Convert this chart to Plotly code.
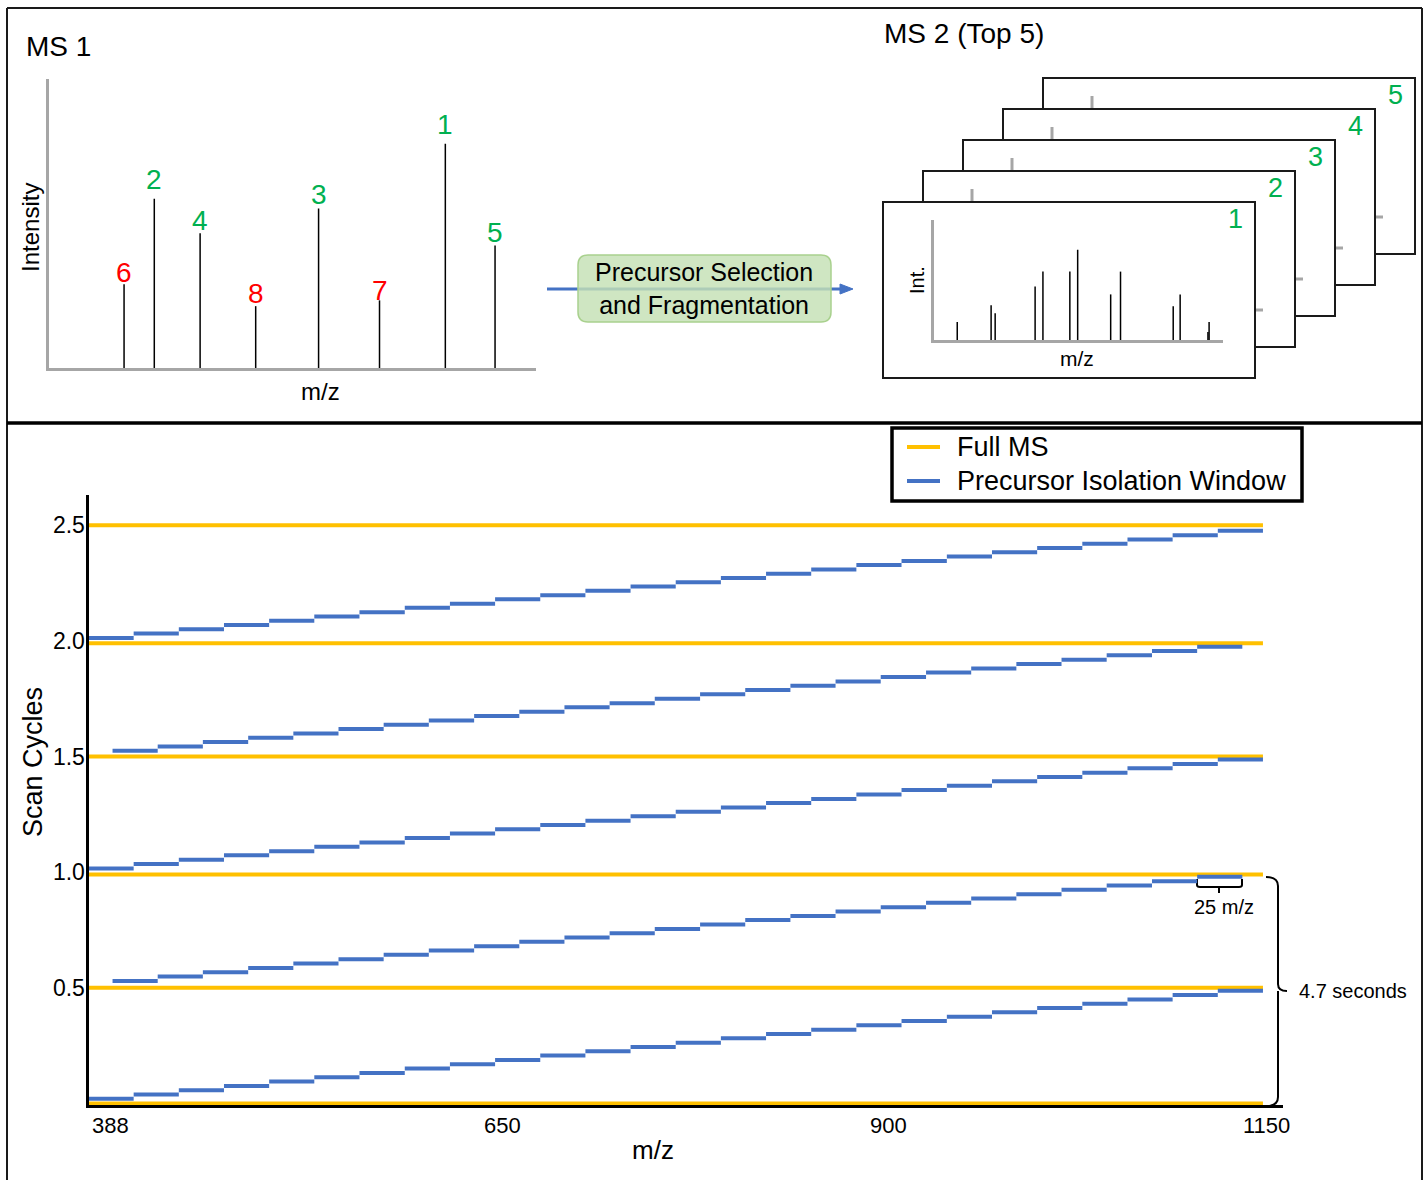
import plotly.graph_objects as go

W, H = 1427, 1180

# ---------------- data ----------------
# MS1 survey spectrum (relative m/z position, relative intensity)
ms1_labels = ["6", "2", "4", "8", "3", "7", "1", "5"]
ms1_mz = [15.5, 21.7, 31.1, 42.5, 55.4, 67.9, 81.4, 91.6]
ms1_intensity = [29.0, 58.6, 46.6, 21.4, 55.2, 23.4, 77.6, 42.4]
ms1_selected = [False, True, True, False, True, False, True, True]

# MS2 fragment spectrum (front panel)
ms2_mz = [8.2, 19.9, 21.3, 35.1, 37.8, 47.1, 49.8, 61.2, 64.6, 82.8, 85.2, 94.8, 95.2]
ms2_intensity = [14.9, 28.9, 22.3, 44.6, 57.0, 57.0, 75.2, 38.0, 57.0, 28.1, 38.0, 6.6, 14.9]
ms2_panel_labels = ["1", "2", "3", "4", "5"]

# Scan-cycle chart
full_ms_cycles = [0.0, 0.5, 0.99, 1.5, 1.99, 2.5]
full_ms_mz_range = [388, 1150]

window_edges_a = [388.0, 417.3, 446.6, 475.9, 505.2, 534.5, 563.8, 593.2, 622.5, 651.8,
                  681.1, 710.4, 739.7, 769.0, 798.3, 827.6, 856.9, 886.2, 915.5, 944.9,
                  974.2, 1003.5, 1032.8, 1062.1, 1091.4, 1120.7, 1150.0]
window_edges_b = [403.6, 432.9, 462.2, 491.6, 520.9, 550.2, 579.5, 608.8, 638.2, 667.5,
                  696.8, 726.1, 755.4, 784.8, 814.1, 843.4, 872.7, 902.0, 931.4, 960.7,
                  990.0, 1019.3, 1048.6, 1078.0, 1107.3, 1136.6]

cycle1_windows = [0.020, 0.039, 0.057, 0.076, 0.095, 0.114, 0.132, 0.151, 0.170, 0.188,
                  0.207, 0.226, 0.244, 0.263, 0.282, 0.300, 0.319, 0.338, 0.357, 0.375,
                  0.394, 0.413, 0.431, 0.450, 0.469, 0.487]
cycle2_windows = [0.530, 0.549, 0.568, 0.586, 0.605, 0.624, 0.643, 0.661, 0.680, 0.699,
                  0.718, 0.736, 0.755, 0.774, 0.793, 0.811, 0.830, 0.849, 0.868, 0.886,
                  0.905, 0.924, 0.943, 0.961, 0.980]
cycle3_windows = [1.016, 1.035, 1.054, 1.073, 1.091, 1.110, 1.129, 1.148, 1.167, 1.186,
                  1.204, 1.223, 1.242, 1.261, 1.280, 1.299, 1.317, 1.336, 1.355, 1.374,
                  1.393, 1.412, 1.430, 1.449, 1.468, 1.487]
cycle4_windows = [1.525, 1.544, 1.563, 1.581, 1.600, 1.619, 1.638, 1.656, 1.675, 1.694,
                  1.713, 1.731, 1.750, 1.769, 1.788, 1.806, 1.825, 1.844, 1.863, 1.881,
                  1.900, 1.919, 1.938, 1.956, 1.975]
cycle5_windows = [2.013, 2.032, 2.050, 2.069, 2.087, 2.106, 2.124, 2.143, 2.161, 2.180,
                  2.198, 2.217, 2.235, 2.254, 2.272, 2.291, 2.309, 2.328, 2.346, 2.365,
                  2.383, 2.402, 2.420, 2.439, 2.457, 2.476]

y_tick_values = [0.5, 1.0, 1.5, 2.0, 2.5]
y_tick_labels = ["0.5", "1.0", "1.5", "2.0", "2.5"]
x_tick_values = [388, 650, 900, 1150]
x_tick_labels = ["388", "650", "900", "1150"]
legend_names = ["Full MS", "Precursor Isolation Window"]

# ---------------- helpers ----------------
FONT = "Liberation Sans, Arial, Helvetica, sans-serif"
GREEN = "#00b050"
RED = "#ff0000"
ORANGE = "#ffc000"
BLUE = "#4472c4"
GRAY = "#a6a6a6"


def px(x):
    return x / W


def py(y):
    return 1 - y / H


fig = go.Figure()

# Full MS lines
fx, fy = [], []
for c in full_ms_cycles:
    fx += [full_ms_mz_range[0], full_ms_mz_range[1], None]
    fy += [c, c, None]
fig.add_trace(go.Scatter(x=fx, y=fy, mode="lines", name=legend_names[0], showlegend=False,
                         line=dict(color=ORANGE, width=4), xaxis="x", yaxis="y"))

# Precursor isolation windows
wx, wy = [], []
for edges, levels in [(window_edges_a, cycle1_windows), (window_edges_b, cycle2_windows),
                      (window_edges_a, cycle3_windows), (window_edges_b, cycle4_windows),
                      (window_edges_a, cycle5_windows)]:
    for i, v in enumerate(levels):
        wx += [edges[i], edges[i + 1], None]
        wy += [v, v, None]
fig.add_trace(go.Scatter(x=wx, y=wy, mode="lines", name=legend_names[1], showlegend=False,
                         line=dict(color=BLUE, width=4), xaxis="x", yaxis="y"))

# MS1 sticks
sx, sy = [], []
for m, i in zip(ms1_mz, ms1_intensity):
    sx += [m, m, None]
    sy += [0, i, None]
fig.add_trace(go.Scatter(x=sx, y=sy, mode="lines", line=dict(color="black", width=1.5),
                         showlegend=False, xaxis="x2", yaxis="y2", hoverinfo="skip"))

# MS2 sticks
tx, ty = [], []
for m, i in zip(ms2_mz, ms2_intensity):
    tx += [m, m, None]
    ty += [0, i, None]
fig.add_trace(go.Scatter(x=tx, y=ty, mode="lines", line=dict(color="black", width=1.5),
                         showlegend=False, xaxis="x3", yaxis="y3", hoverinfo="skip"))

shapes = []


def line(x0, y0, x1, y1, color="black", width=2):
    shapes.append(dict(type="line", xref="paper", yref="paper", x0=px(x0), y0=py(y0),
                       x1=px(x1), y1=py(y1), line=dict(color=color, width=width), layer="below"))


def path(d_points, fill=None, color="black", width=2):
    shapes.append(dict(type="path", xref="paper", yref="paper", path=d_points,
                       fillcolor=fill if fill else "rgba(0,0,0,0)",
                       line=dict(color=color, width=width), layer="below"))


def P(x, y):
    return f"{px(x):.6f},{py(y):.6f}"


# outer frame and divider
line(7, 8, 1422, 8, "#1a1a1a", 2)
line(7, 8, 7, 1185, "#1a1a1a", 2)
line(1422, 8, 1422, 1185, "#1a1a1a", 2)
line(7, 423, 1422, 423, "black", 3.5)

# arrow + rounded green box
line(547, 289, 842, 289, BLUE, 3)
path(f"M{P(840, 284)} L{P(853, 289)} L{P(840, 294)} Z", fill=BLUE, color=BLUE, width=1)
bx0, by0, bx1, by1, r = 578, 255, 831, 322, 10
rounded = (f"M{P(bx0 + r, by0)} L{P(bx1 - r, by0)} Q{P(bx1, by0)} {P(bx1, by0 + r)} "
           f"L{P(bx1, by1 - r)} Q{P(bx1, by1)} {P(bx1 - r, by1)} L{P(bx0 + r, by1)} "
           f"Q{P(bx0, by1)} {P(bx0, by1 - r)} L{P(bx0, by0 + r)} Q{P(bx0, by0)} {P(bx0 + r, by0)} Z")
path(rounded, fill="rgba(197,224,180,0.82)", color="#a9d18e", width=1.5)

# stacked MS2 panels (back to front)
for k in range(4, -1, -1):
    x0, y0 = 883 + 40 * k, 202 - 31 * k
    shapes.append(dict(type="rect", xref="paper", yref="paper", x0=px(x0), y0=py(y0),
                       x1=px(x0 + 372), y1=py(y0 + 176), fillcolor="white",
                       line=dict(color="#1a1a1a", width=2), layer="below"))
    if k > 0:
        line(x0 + 49, y0 + 18, x0 + 49, y0 + 139, GRAY, 3)
        line(x0 + 49, y0 + 139, x0 + 340, y0 + 139, GRAY, 3)

# curly bracket "4.7 seconds"
brace = (f"M{P(1266, 877)} Q{P(1278, 877)} {P(1278, 886)} L{P(1278, 984)} "
         f"Q{P(1278, 991)} {P(1287, 991)} M{P(1278, 991)} Q{P(1278, 992)} {P(1278, 998)} "
         f"L{P(1278, 1097)} Q{P(1278, 1106)} {P(1266, 1106)}")
path(brace, color="black", width=2)
# bracket "25 m/z"
br = (f"M{P(1197, 879)} L{P(1197, 885)} Q{P(1197, 887)} {P(1200, 887)} L{P(1239, 887)} "
      f"Q{P(1242, 887)} {P(1242, 885)} L{P(1242, 879)} M{P(1219, 887)} L{P(1219, 893)}")
path(br, color="black", width=2)

# legend box
shapes.append(dict(type="rect", xref="paper", yref="paper", x0=px(892), y0=py(428),
                   x1=px(1302), y1=py(501), fillcolor="white",
                   line=dict(color="black", width=3.5), layer="below"))
line(907, 447, 940, 447, ORANGE, 4)
line(907, 481, 940, 481, BLUE, 4)

annotations = []


def text(x, y, s, size, color="black", xanchor="center", yanchor="middle", angle=0):
    annotations.append(dict(x=px(x), y=py(y), xref="paper", yref="paper", text=s,
                            showarrow=False, xanchor=xanchor, yanchor=yanchor,
                            textangle=angle, font=dict(size=size, color=color, family=FONT)))


text(24, 47, "MS 1", 28, xanchor="left")
text(882, 34, "MS 2 (Top 5)", 28, xanchor="left")
text(30, 228, "Intensity", 24, angle=-90)
text(320, 391, "m/z", 24)
text(704, 289, "Precursor Selection<br>and Fragmentation", 25)
text(917, 280, "Int.", 20, angle=-90)
text(1077, 358, "m/z", 21)
for k, lab in enumerate(ms2_panel_labels):
    text(1235 + 40 * k, 219 - 31 * k, lab, 27, GREEN)

# legend text
text(955, 447, legend_names[0], 27, xanchor="left")
text(955, 481, legend_names[1], 27, xanchor="left")

# MS1 peak labels (vertical label offsets in px, style only)
label_yshift = [-6, 2, -5, -5, -4, -8, 2, -5]
for m, i, lab, sel, ys in zip(ms1_mz, ms1_intensity, ms1_labels, ms1_selected, label_yshift):
    annotations.append(dict(x=m, y=i, xref="x2", yref="y2", text=lab, showarrow=False,
                            xanchor="center", yanchor="bottom", yshift=ys,
                            font=dict(size=28, color=GREEN if sel else RED, family=FONT)))

# bottom chart labels
text(33, 762, "Scan Cycles", 27, angle=-90)
text(653, 1150, "m/z", 26)
text(1297, 991, "4.7 seconds", 20, xanchor="left")
text(1224, 907, "25 m/z", 20)
xtick_shift = [1, 10, 11, 4]
xtick_anchor = ["left", "center", "center", "center"]
for v, lab, sh, an in zip(x_tick_values, x_tick_labels, xtick_shift, xtick_anchor):
    annotations.append(dict(x=v, y=py(1125), xref="x", yref="paper", text=lab, showarrow=False,
                            xanchor=an, yanchor="middle", xshift=sh,
                            font=dict(size=22, color="black", family=FONT)))

axis_common = dict(showgrid=False, zeroline=False, ticks="", fixedrange=True)

fig.update_layout(
    width=W, height=H,
    margin=dict(l=0, r=0, t=0, b=0),
    paper_bgcolor="white",
    plot_bgcolor="rgba(0,0,0,0)",
    font=dict(family=FONT, color="black"),
    showlegend=False,
    xaxis=dict(domain=[px(88.5), px(1283)], range=[388, 1163], anchor="y",
               showline=True, linecolor="black", linewidth=3, showticklabels=False,
               **axis_common),
    yaxis=dict(domain=[py(1105), py(495)], range=[-0.0065, 2.631], anchor="x",
               showline=True, linecolor="black", linewidth=3,
               tickvals=y_tick_values, ticktext=y_tick_labels,
               tickfont=dict(size=23, color="black", family=FONT), ticklabelstandoff=-4,
               **axis_common),
    xaxis2=dict(domain=[px(48.5), px(536)], range=[0, 100], anchor="y2",
                showline=True, linecolor=GRAY, linewidth=3, showticklabels=False,
                **axis_common),
    yaxis2=dict(domain=[py(368), py(79)], range=[0, 100], anchor="x2",
                showline=True, linecolor=GRAY, linewidth=3, showticklabels=False,
                **axis_common),
    xaxis3=dict(domain=[px(933.5), px(1223)], range=[0, 100], anchor="y3",
                showline=True, linecolor=GRAY, linewidth=3, showticklabels=False,
                **axis_common),
    yaxis3=dict(domain=[py(340), py(220)], range=[0, 100], anchor="x3",
                showline=True, linecolor=GRAY, linewidth=3, showticklabels=False,
                **axis_common),
    shapes=shapes,
    annotations=annotations,
)

fig.write_html("out.html", include_plotlyjs=True, config={"displayModeBar": False})
